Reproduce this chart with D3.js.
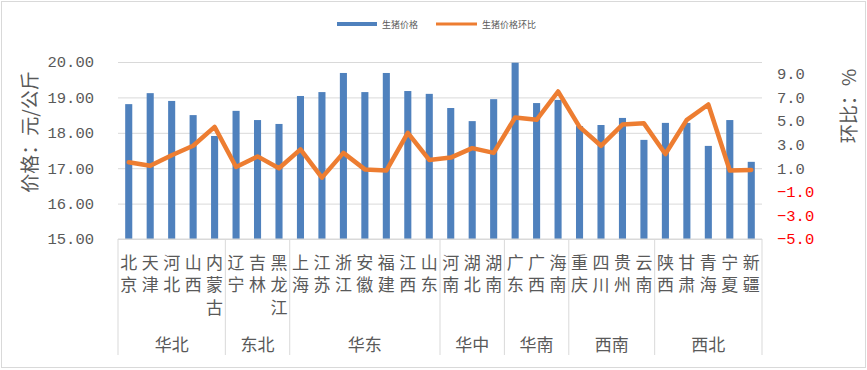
<!DOCTYPE html>
<html>
<head>
<meta charset="utf-8">
<script src="https://cdn.jsdelivr.net/npm/d3@7"></script>
<style>
  body { margin: 0; background: #fff; }
  svg { display: block; }
  .cjk { font-family: "Noto Sans CJK SC", sans-serif; fill: #595959; }
  .num { font-family: "Liberation Mono", monospace; }
  .vert { writing-mode: vertical-rl; text-orientation: upright; }
</style>
</head>
<body>
<svg id="chart" width="867" height="370"></svg>
<script>
// provinces along the category axis
var provinces = ["北京","天津","河北","山西","内蒙古","辽宁","吉林","黑龙江","上海","江苏","浙江","安徽","福建","江西","山东",
                 "河南","湖北","湖南","广东","广西","海南","重庆","四川","贵州","云南","陕西","甘肃","青海","宁夏","新疆"];
// regions and how many provinces each covers
var regions = ["华北","东北","华东","华中","华南","西南","西北"];
var regionSizes = [5, 3, 7, 3, 3, 4, 5];
// 生猪价格 (元/公斤)
var prices = [18.81,19.12,18.90,18.50,17.91,18.62,18.36,18.25,19.04,19.15,19.69,19.15,19.69,19.18,19.10,
              18.70,18.33,18.95,19.98,18.84,18.93,18.19,18.22,18.42,17.80,18.28,18.28,17.63,18.36,17.18];
// 生猪价格环比 (%)
var changes = [1.5,1.2,2.1,2.9,4.5,1.1,2.0,1.0,2.6,0.2,2.3,0.9,0.8,4.0,1.7,
               1.9,2.7,2.3,5.3,5.1,7.5,4.5,2.9,4.7,4.8,2.2,5.1,6.4,0.8,0.85];
var leftTicks = [15, 16, 17, 18, 19, 20];
var rightTicks = [-5, -3, -1, 1, 3, 5, 7, 9];

var svg = d3.select("#chart");
var plotLeft = 118, plotRight = 762, plotTop = 62, plotBottom = 239;

// chart frame
svg.append("rect")
  .attr("x", 1.5).attr("y", 1.5).attr("width", 864).attr("height", 366)
  .attr("fill", "#fff").attr("stroke", "#d9d9d9");

var x = d3.scaleBand()
  .domain(d3.range(provinces.length))
  .range([plotLeft, plotRight])
  .paddingInner(0.67)
  .paddingOuter(0.335);

var yL = d3.scaleLinear().domain([15, 20]).range([plotBottom, plotTop]);
var yR = d3.scaleLinear().domain([-5, 10]).range([plotBottom, plotTop]);

// left axis + gridlines
var gL = svg.append("g")
  .attr("transform", "translate(" + plotLeft + ",0)")
  .call(d3.axisLeft(yL).tickValues(leftTicks).tickFormat(d3.format(".2f"))
        .tickSizeInner(-(plotRight - plotLeft)).tickSizeOuter(0).tickPadding(24));
gL.select(".domain").remove();
gL.selectAll("line").attr("stroke", "#d9d9d9");
gL.selectAll("text").attr("class", "num").attr("fill", "#595959").attr("font-size", "15.5px");

// right axis
var gR = svg.append("g")
  .attr("transform", "translate(" + plotRight + ",0)")
  .call(d3.axisRight(yR).tickValues(rightTicks).tickFormat(d3.format(".1f"))
        .tickSize(0).tickPadding(15));
gR.select(".domain").remove();
gR.selectAll("text").attr("class", "num").attr("font-size", "15.5px")
  .attr("fill", function(d) { return d < 0 ? "#ff0000" : "#595959"; });

// bars
svg.append("g").selectAll("rect")
  .data(prices).enter()
  .append("rect")
  .attr("x", function(d, i) { return x(i); })
  .attr("y", function(d) { return yL(d); })
  .attr("width", x.bandwidth())
  .attr("height", function(d) { return yL(15) - yL(d); })
  .attr("fill", "#4f81bd");

// bottom axis line
svg.append("line")
  .attr("x1", plotLeft).attr("x2", plotRight).attr("y1", plotBottom).attr("y2", plotBottom)
  .attr("stroke", "#d9d9d9");

// line
var line = d3.line()
  .x(function(d, i) { return x(i) + x.bandwidth() / 2; })
  .y(function(d) { return yR(d); });

svg.append("path")
  .datum(changes)
  .attr("fill", "none")
  .attr("stroke", "#ed7d31")
  .attr("stroke-width", 4.5)
  .attr("stroke-linejoin", "round")
  .attr("stroke-linecap", "round")
  .attr("d", line);

// category labels, written vertically (one char per row)
var step = x.step();
svg.append("g").selectAll("text")
  .data(provinces).enter()
  .append("text")
  .attr("class", "cjk vert")
  .attr("x", function(p, i) { return x(i) + x.bandwidth() / 2; })
  .attr("y", 254)
  .attr("font-size", "17px")
  .attr("letter-spacing", "5.5px")
  .text(function(p) { return p; });

// region separators and names
var start = 0;
var bounds = [0];
regionSizes.forEach(function(n) { start += n; bounds.push(start); });
svg.append("g").selectAll("line")
  .data(bounds).enter()
  .append("line")
  .attr("x1", function(b) { return plotLeft + b * step; })
  .attr("x2", function(b) { return plotLeft + b * step; })
  .attr("y1", plotBottom).attr("y2", 355)
  .attr("stroke", "#d9d9d9");

svg.append("g").selectAll("text")
  .data(regions).enter()
  .append("text")
  .attr("class", "cjk")
  .attr("x", function(r, i) { return plotLeft + (bounds[i] + bounds[i + 1]) / 2 * step; })
  .attr("y", 343)
  .attr("text-anchor", "middle").attr("dominant-baseline", "central")
  .attr("font-size", "17px")
  .text(function(r) { return r; });

// axis titles
svg.append("text")
  .attr("class", "cjk")
  .attr("transform", "translate(28,132) rotate(-90)")
  .attr("text-anchor", "middle").attr("dominant-baseline", "central")
  .attr("font-size", "19px")
  .text("价格：元/公斤");

svg.append("text")
  .attr("class", "cjk")
  .attr("transform", "translate(847,106) rotate(-90)")
  .attr("text-anchor", "middle").attr("dominant-baseline", "central")
  .attr("font-size", "19px")
  .text("环比：%");

// legend
var lg = svg.append("g");
lg.append("rect").attr("x", 337).attr("y", 22).attr("width", 40).attr("height", 4).attr("fill", "#4f81bd");
lg.append("text").attr("class", "cjk").attr("x", 382).attr("y", 24)
  .attr("dominant-baseline", "central").attr("font-size", "9px").text("生猪价格");
lg.append("line").attr("x1", 436).attr("x2", 477).attr("y1", 24).attr("y2", 24)
  .attr("stroke", "#ed7d31").attr("stroke-width", 3);
lg.append("text").attr("class", "cjk").attr("x", 482).attr("y", 24)
  .attr("dominant-baseline", "central").attr("font-size", "9px").text("生猪价格环比");
</script>
</body>
</html>
